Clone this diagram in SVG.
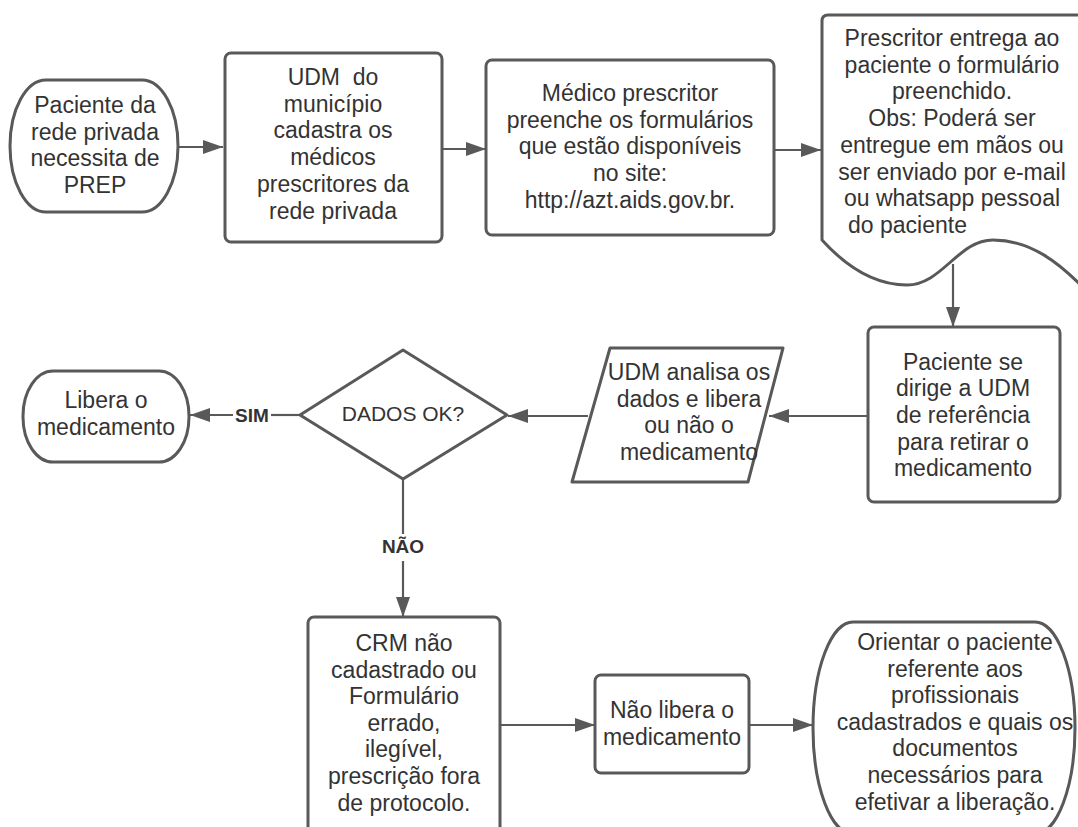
<svg xmlns="http://www.w3.org/2000/svg" width="1078" height="827" viewBox="0 0 1078 827">
<defs>
<style>
.n{fill:#fff;stroke:#595959;stroke-width:3;stroke-linejoin:round}
.t{font-family:"Liberation Sans",Arial,sans-serif;font-size:23px;fill:#333;text-anchor:middle}
.s{font-size:21px}
.b{font-family:"Liberation Sans",Arial,sans-serif;font-size:19px;font-weight:bold;fill:#333;text-anchor:middle}
.c{fill:none;stroke:#595959;stroke-width:2.2}
</style>
<marker id="ah" markerWidth="20" markerHeight="14" refX="20" refY="7" orient="auto" markerUnits="userSpaceOnUse"><path d="M0,0 L20,7 L0,14 z" fill="#595959"/></marker>
</defs>
<rect width="1078" height="827" fill="#fff"/>
<g id="connectors">
<path class="c" d="M179,147 H223" marker-end="url(#ah)"/>
<path class="c" d="M443,149 H486" marker-end="url(#ah)"/>
<path class="c" d="M775,150 H821" marker-end="url(#ah)"/>
<path class="c" d="M953,264 V327" marker-end="url(#ah)"/>
<path class="c" d="M867,416 H769" marker-end="url(#ah)"/>
<path class="c" d="M588,416 H508" marker-end="url(#ah)"/>
<path class="c" d="M300,415 H271"/>
<path class="c" d="M233,415 H190" marker-end="url(#ah)"/>
<path class="c" d="M403,479 V534"/>
<path class="c" d="M403,561 V617" marker-end="url(#ah)"/>
<path class="c" d="M501,725 H595" marker-end="url(#ah)"/>
<path class="c" d="M750,725 H813" marker-end="url(#ah)"/>
<text class="b" x="252" y="422">SIM</text>
<text class="b" x="403" y="553">NÃO</text>
</g>
<g id="n1">
<rect class="n" x="10" y="80" width="168" height="132" rx="36" ry="66"/>
<text class="t" x="95"><tspan x="95" y="113">Paciente da</tspan><tspan x="95" y="140">rede privada</tspan><tspan x="95" y="166">necessita de</tspan><tspan x="95" y="193">PREP</tspan></text>
</g>
<g id="n2">
<rect class="n" x="225" y="53" width="217" height="189" rx="6"/>
<text class="t"><tspan x="333" y="85">UDM&#160; do</tspan><tspan x="333" y="111.7">município</tspan><tspan x="333" y="138.4">cadastra os</tspan><tspan x="333" y="165.1">médicos</tspan><tspan x="333" y="191.8">prescritores da</tspan><tspan x="333" y="218.5">rede privada</tspan></text>
</g>
<g id="n3">
<rect class="n" x="486" y="60" width="288" height="175" rx="6"/>
<text class="t"><tspan x="630" y="101">Médico prescritor</tspan><tspan x="630" y="127.7">preenche os formulários</tspan><tspan x="630" y="154.4">que estão disponíveis</tspan><tspan x="630" y="181.1">no site:</tspan><tspan x="630" y="207.8">http://azt.aids.gov.br.</tspan></text>
</g>
<g id="n4">
<path class="n" d="M822,240 L822,21 Q822,15 828,15 L1090,15 L1090,295 C1060,262 1030,240 993,240 C958,240 942,285 907,285 C870,285 842,262 822,240 Z"/>
<text class="t"><tspan x="952" y="46">Prescritor entrega ao</tspan><tspan x="952" y="72.7">paciente o formulário</tspan><tspan x="952" y="99.4">preenchido.</tspan><tspan x="952" y="126.1">Obs: Poderá ser</tspan><tspan x="952" y="152.8">entregue em mãos ou</tspan><tspan x="952" y="179.5">ser enviado por e-mail</tspan><tspan x="952" y="206.2">ou whatsapp pessoal</tspan><tspan x="848" y="232.9" text-anchor="start">do paciente</tspan></text>
</g>
<g id="n5">
<rect class="n" x="868" y="327" width="192" height="175" rx="6"/>
<text class="t"><tspan x="963" y="369.5">Paciente se</tspan><tspan x="963" y="396.2">dirige a UDM</tspan><tspan x="963" y="422.9">de referência</tspan><tspan x="963" y="449.6">para retirar o</tspan><tspan x="963" y="476.3">medicamento</tspan></text>
</g>
<g id="n6">
<path class="n" d="M610,348 L783,348 L748,482 L572,482 Z"/>
<text class="t"><tspan x="689" y="380">UDM analisa os</tspan><tspan x="689" y="406.7">dados e libera</tspan><tspan x="689" y="433.4">ou não o</tspan><tspan x="689" y="460.1">medicamento</tspan></text>
</g>
<g id="n7">
<path class="n" d="M403,350 L507,415 L403,479 L300,415 Z"/>
<text class="t s" x="403" y="421">DADOS OK?</text>
</g>
<g id="n8">
<rect class="n" x="23" y="371" width="166" height="91" rx="30" ry="45"/>
<text class="t"><tspan x="106" y="408">Libera o</tspan><tspan x="106" y="435">medicamento</tspan></text>
</g>
<g id="n9">
<rect class="n" x="308" y="617" width="192" height="225" rx="6"/>
<text class="t"><tspan x="404" y="651">CRM não</tspan><tspan x="404" y="677.6">cadastrado ou</tspan><tspan x="404" y="704.2">Formulário</tspan><tspan x="404" y="730.8">errado,</tspan><tspan x="404" y="757.4">ilegível,</tspan><tspan x="404" y="784">prescrição fora</tspan><tspan x="404" y="810.6">de protocolo.</tspan></text>
</g>
<g id="n10">
<rect class="n" x="595" y="675" width="154" height="98" rx="6"/>
<text class="t"><tspan x="672" y="718">Não libera o</tspan><tspan x="672" y="745">medicamento</tspan></text>
</g>
<g id="n11">
<rect class="n" x="813" y="622" width="262" height="212" rx="40" ry="106"/>
<text class="t"><tspan x="955" y="650">Orientar o paciente</tspan><tspan x="955" y="676.6">referente aos</tspan><tspan x="955" y="703.2">profissionais</tspan><tspan x="955" y="729.8">cadastrados e quais os</tspan><tspan x="955" y="756.4">documentos</tspan><tspan x="955" y="783">necessários para</tspan><tspan x="955" y="809.6">efetivar a liberação.</tspan></text>
</g>
</svg>
